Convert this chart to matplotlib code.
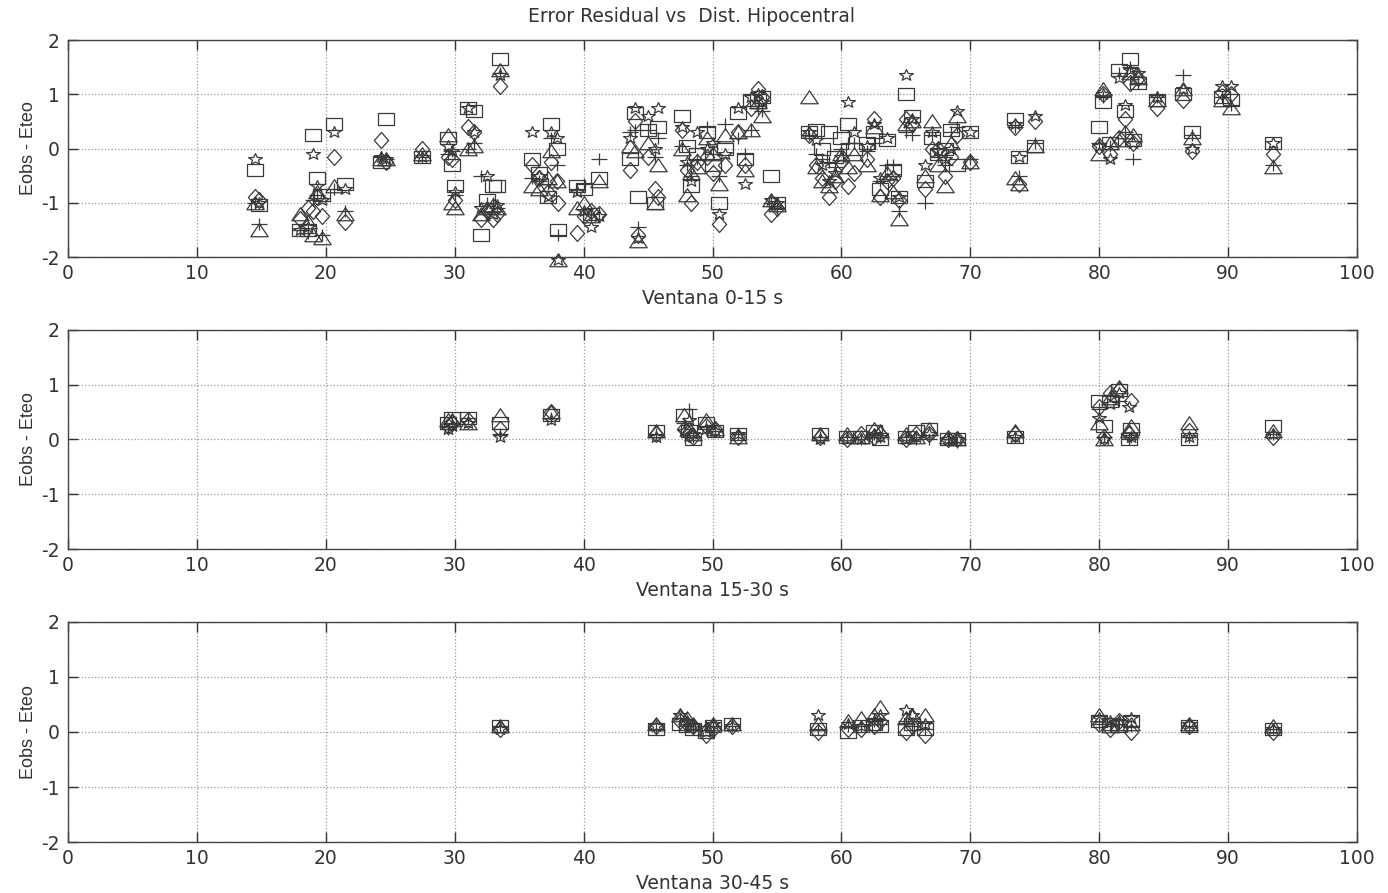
import numpy as np
import matplotlib.pyplot as plt
from matplotlib.path import Path

# ---------------------------------------------------------------#
# Residuals (Eobs - Eteo) vs hypocentral distance, three windows  #
# columns per station: square, diamond, triangle, plus, star      #
# ---------------------------------------------------------------#
dist1 = [14.5, 14.8, 18.0, 18.6, 19.0, 19.3, 19.7, 20.6, 21.5, 24.3, 24.7, 27.5,
         29.5, 29.8, 30.0, 31.0, 31.5, 32.0, 32.5, 33.0, 33.3, 33.5, 36.0, 36.5,
         37.2, 37.5, 37.9, 38.0, 39.5, 40.0, 40.6, 41.2, 43.6, 44.0, 44.2, 45.0,
         45.5, 45.8, 47.6, 48.0, 48.3, 48.8, 49.6, 50.0, 50.5, 51.0, 52.0, 52.5,
         53.0, 53.5, 53.8, 54.5, 55.0, 57.5, 58.0, 58.5, 59.0, 59.5, 60.0, 60.5,
         61.0, 62.0, 62.5, 63.0, 63.5, 64.0, 64.5, 65.0, 65.5, 66.5, 67.0, 67.5,
         68.0, 68.5, 69.0, 70.0, 73.5, 73.8, 75.0, 80.0, 80.3, 80.8, 81.5, 82.0,
         82.4, 82.6, 83.0, 84.5, 86.5, 87.2, 89.5, 90.2, 93.5]
sq1 = [-0.4, -1.05, -1.5, -1.5, 0.25, -0.55, -0.85, 0.45, -0.65, -0.25, 0.55, -0.15,
       0.2, -0.3, -0.7, 0.75, 0.7, -1.6, -0.95, -0.7, -0.7, 1.65, -0.2, -0.45,
       -0.9, 0.45, 0.0, -1.5, -0.7, -0.75, -1.2, -0.55, -0.2, 0.65, -0.9, 0.35,
       -1.0, 0.4, 0.6, 0.05, -0.7, -0.1, 0.3, -0.3, -1.0, 0.0, 0.65, -0.2,
       0.9, 0.9, 0.95, -0.5, -1.0, 0.3, 0.35, 0.0, 0.3, -0.15, 0.2, 0.45,
       0.0, 0.1, 0.3, -0.75, 0.15, -0.4, -0.9, 1.0, 0.6, -0.6, 0.2, -0.1,
       0.0, 0.35, -0.3, 0.3, 0.55, -0.15, 0.05, 0.4, 0.85, 0.1, 1.45, 0.7,
       1.65, 0.15, 1.2, 0.9, 1.0, 0.3, 0.95, 0.9, 0.1]
dm1 = [-0.9, -0.95, -1.3, -1.1, -1.15, -0.9, -1.25, -0.15, -1.35, 0.15, -0.25, 0.0,
       -0.15, -0.2, -0.95, 0.4, 0.3, -1.3, -1.15, -1.3, -1.2, 1.15, -0.3, -0.55,
       -0.8, -0.25, -0.6, -1.0, -1.55, -1.25, -1.15, -1.2, -0.4, 0.5, -1.6, -0.15,
       -0.75, -0.9, 0.35, -0.4, -1.0, -0.25, -0.15, -0.45, -1.4, -0.3, 0.3, -0.3,
       0.75, 1.1, 0.95, -1.2, -1.1, 0.25, -0.3, -0.55, -0.9, -0.6, -0.25, -0.7,
       -0.45, -0.2, 0.55, -0.9, -0.6, -0.55, -0.95, 0.55, 0.45, -0.75, 0.0, 0.0,
       -0.5, -0.15, 0.25, -0.25, 0.4, -0.65, 0.5, 0.05, 1.0, -0.1, 0.2, 0.55,
       1.2, 0.1, 1.3, 0.75, 0.9, -0.05, 1.05, 1.0, -0.1]
tr1 = [-1.0, -1.5, -1.2, -1.35, -1.6, -0.8, -1.65, -0.7, -1.2, -0.2, -0.2, -0.1,
       0.25, -1.0, -1.1, 0.0, 0.05, -1.2, -1.1, -1.05, -1.1, 1.45, -0.7, -0.75,
       -0.55, -0.05, -0.6, -2.05, -1.1, -1.0, -1.25, -0.6, 0.05, -0.05, -1.7, 0.1,
       -1.0, -0.3, 0.0, -0.85, -0.45, -0.35, 0.2, -0.1, -0.65, 0.25, 0.3, -0.4,
       0.35, 0.85, 0.6, -0.95, -1.05, 0.95, -0.35, -0.6, -0.7, -0.5, -0.1, -0.35,
       -0.1, -0.3, 0.4, -0.85, -0.45, -0.8, -1.3, 0.45, 0.5, -0.5, 0.5, -0.3,
       -0.7, 0.1, 0.6, -0.25, -0.55, -0.65, 0.05, -0.1, 1.1, 0.1, 0.15, 0.3,
       1.4, 0.25, 1.3, 0.9, 1.1, 0.2, 0.9, 0.75, -0.35]
pl1 = [-1.0, -1.4, -1.5, -1.55, -0.95, -0.85, -1.6, -0.75, -1.15, -0.15, -0.2, -0.15,
       -0.1, -0.05, -0.85, 0.0, 0.1, -0.5, -1.0, -1.0, -1.1, 1.4, -0.55, -0.6,
       -0.65, 0.2, -0.3, -1.6, -0.75, -0.65, -1.2, -0.2, 0.3, 0.35, -1.45, 0.35,
       -0.15, 0.2, 0.05, -0.3, -0.5, -0.2, 0.4, -0.1, -0.5, 0.45, 0.2, -0.1,
       0.35, 0.75, 0.7, -1.0, -1.1, 0.25, -0.1, -0.2, -0.25, -0.35, 0.0, 0.1,
       0.1, -0.05, 0.1, -0.6, -0.3, -0.3, -1.15, 0.3, 0.25, -1.0, 0.25, -0.15,
       -0.3, 0.3, 0.4, -0.2, 0.4, -0.5, 0.1, 0.1, 0.95, 0.05, 1.4, 0.3,
       1.5, -0.2, 1.2, 0.95, 1.35, 0.25, 0.95, 0.8, -0.3]
st1 = [-0.2, -1.0, -1.5, -1.45, -0.1, -0.7, -0.95, 0.3, -0.75, -0.15, -0.2, -0.15,
       0.05, -0.05, -0.8, 0.75, 0.3, -1.1, -0.5, -1.2, -1.05, 1.35, 0.3, -0.5,
       -0.9, 0.3, 0.2, -2.05, -0.8, -1.15, -1.45, -1.25, 0.2, 0.75, -1.65, 0.6,
       0.0, 0.75, 0.4, -0.25, -0.6, 0.3, 0.0, 0.1, -1.2, -0.1, 0.75, -0.65,
       0.95, 1.0, 0.85, -0.95, -1.0, 0.3, 0.15, -0.3, -0.6, -0.45, -0.15, 0.85,
       0.3, 0.05, 0.45, -0.55, 0.2, -0.5, -0.9, 1.35, 0.55, -0.3, 0.3, -0.05,
       -0.2, 0.0, 0.7, 0.3, 0.45, -0.15, 0.6, 0.05, 1.0, -0.2, 1.3, 0.8,
       1.45, 0.1, 1.4, 0.95, 1.1, 0.0, 1.15, 1.15, 0.1]

dist2 = [29.5, 29.8, 31.0, 33.5, 37.5, 45.6, 47.8, 48.2, 48.5, 49.5, 50.2, 52.0,
         58.3, 60.4, 61.5, 62.5, 63.0, 65.0, 65.8, 66.8, 68.3, 69.0, 73.5, 80.0,
         80.4, 80.8, 81.5, 82.3, 82.5, 87.0, 93.5]
sq2 = [0.3, 0.4, 0.4, 0.3, 0.45, 0.15, 0.45, 0.15, 0.0, 0.3, 0.15, 0.1,
       0.1, 0.05, 0.05, 0.15, 0.0, 0.05, 0.15, 0.2, 0.0, 0.0, 0.05, 0.7,
       0.25, 0.7, 0.9, 0.0, 0.2, 0.0, 0.25]
dm2 = [0.25, 0.3, 0.35, 0.2, 0.5, 0.1, 0.2, 0.1, 0.05, 0.25, 0.2, 0.05,
       0.05, 0.0, 0.1, 0.05, 0.1, 0.0, 0.1, 0.1, 0.0, 0.0, 0.1, 0.6,
       0.05, 0.85, 0.9, 0.1, 0.7, 0.15, 0.05]
tr2 = [0.35, 0.35, 0.3, 0.45, 0.5, 0.15, 0.45, 0.2, 0.1, 0.35, 0.2, 0.05,
       0.1, 0.1, 0.05, 0.2, 0.15, 0.1, 0.05, 0.2, 0.05, 0.0, 0.15, 0.3,
       0.0, 0.75, 0.95, 0.15, 0.25, 0.3, 0.15]
pl2 = [0.2, 0.3, 0.4, 0.1, 0.4, 0.1, 0.3, 0.55, 0.05, 0.25, 0.15, 0.1,
       0.05, 0.05, 0.0, 0.1, 0.05, 0.05, 0.0, 0.0, 0.0, -0.05, 0.05, 0.55,
       0.05, 0.8, 0.7, 0.0, 0.05, 0.05, 0.1]
st2 = [0.2, 0.25, 0.3, 0.05, 0.35, 0.05, 0.15, 0.35, 0.1, 0.2, 0.15, 0.1,
       0.0, 0.0, 0.0, 0.1, 0.05, 0.0, 0.05, 0.1, 0.0, 0.0, 0.05, 0.4,
       0.0, 0.65, 0.85, 0.6, 0.05, 0.05, 0.1]

dist3 = [33.5, 45.6, 47.5, 48.0, 48.5, 49.5, 50.0, 51.5, 58.2, 60.5, 61.5, 62.5,
         63.0, 65.0, 65.5, 66.5, 80.0, 80.8, 81.5, 82.5, 87.0, 93.5]
sq3 = [0.1, 0.05, 0.15, 0.1, 0.05, 0.0, 0.1, 0.15, 0.05, 0.0, 0.1, 0.15,
       0.1, 0.05, 0.15, 0.05, 0.2, 0.15, 0.1, 0.2, 0.1, 0.05]
dm3 = [0.05, 0.1, 0.2, 0.15, 0.1, -0.05, 0.05, 0.1, 0.0, 0.05, 0.05, 0.1,
       0.2, 0.0, 0.1, -0.05, 0.15, 0.05, 0.2, 0.0, 0.1, 0.0]
tr3 = [0.1, 0.15, 0.3, 0.25, 0.15, 0.05, 0.15, 0.15, 0.15, 0.2, 0.25, 0.3,
       0.45, 0.25, 0.3, 0.3, 0.3, 0.1, 0.15, 0.15, 0.15, 0.1]
pl3 = [0.1, 0.05, 0.25, 0.1, 0.05, 0.1, 0.1, 0.1, 0.05, 0.1, 0.1, 0.2,
       0.15, 0.2, 0.1, 0.05, 0.15, 0.1, 0.15, 0.1, 0.1, 0.05]
st3 = [0.05, 0.1, 0.3, 0.2, 0.1, 0.0, 0.15, 0.1, 0.3, 0.15, 0.1, 0.2,
       0.3, 0.4, 0.3, 0.15, 0.25, 0.2, 0.2, 0.25, 0.15, 0.05]

xlabels = ['Ventana 0-15 s', 'Ventana 15-30 s', 'Ventana 30-45 s']

#---------------------------------------------------------#
# the scanned original is stretched sideways, so the     #
# marker shapes are built a bit wider than tall          #
#---------------------------------------------------------#
sx, sy = 1.0, 0.75
mSquare = Path([(-sx, -sy), (sx, -sy), (sx, sy), (-sx, sy), (-sx, -sy)], closed=True)
mDiamond = Path([(0, -0.95), (0.85, 0), (0, 0.95), (-0.85, 0), (0, -0.95)], closed=True)
mTriangle = Path([(-sx, -0.72), (sx, -0.72), (0, 0.78), (-sx, -0.72)], closed=True)
mPlus = Path([(-sx, 0), (sx, 0), (0, -0.8), (0, 0.8)],
             [Path.MOVETO, Path.LINETO, Path.MOVETO, Path.LINETO])
ang = np.pi / 2 + np.arange(10) * np.pi / 5
rad = np.where(np.arange(10) % 2 == 0, 1.0, 0.42)
starPts = list(zip(rad * np.cos(ang) * 1.05, rad * np.sin(ang) * 0.85))
mStar = Path(starPts + [starPts[0]], closed=True)

styles = [(mSquare, 11.5), (mDiamond, 11.5), (mTriangle, 12.5), (mPlus, 11.5), (mStar, 10.0)]
ink = '#3a3a3a'

plt.rcParams['font.family'] = ['DejaVu Sans']
plt.rcParams['axes.unicode_minus'] = False
fig = plt.figure(figsize=(13.88, 8.93), dpi=100)
positions = [[0.0490, 0.7122, 0.9287, 0.2430],
             [0.0490, 0.3852, 0.9287, 0.2453],
             [0.0490, 0.0571, 0.9287, 0.2464]]

panels = [(dist1, sq1, dm1, tr1, pl1, st1),
          (dist2, sq2, dm2, tr2, pl2, st2),
          (dist3, sq3, dm3, tr3, pl3, st3)]

for k in range(3):
  ax = fig.add_axes(positions[k])
  d = panels[k][0]
  for j in range(5):
    mk, ms = styles[j]
    ax.plot(d, panels[k][j + 1], linestyle='none', marker=mk, markersize=ms,
            markerfacecolor='none', markeredgecolor=ink, markeredgewidth=0.9,
            clip_on=False)
  ax.set_xlim(0, 100)
  ax.set_ylim(-2, 2)
  ax.set_xticks(np.arange(0, 101, 10))
  ax.set_yticks([-2, -1, 0, 1, 2])
  ax.grid(True, color='#9a9a9a', linestyle=':', linewidth=0.9)
  ax.tick_params(direction='in', top=True, right=True, length=7, width=1.0,
                 labelsize=13.5, colors='#333333')
  ax.tick_params(axis='x', pad=5)
  ax.tick_params(axis='y', pad=6)
  for sp in ax.spines.values():
    sp.set_color('#444444')
    sp.set_linewidth(1.0)
  ax.set_xlabel(xlabels[k], fontsize=13.5, color='#333333', labelpad=4)
  ax.set_ylabel('Eobs - Eteo', fontsize=13, color='#333333', labelpad=3,
                family=['Liberation Sans', 'DejaVu Sans'])

fig.text(691 / 1388, 1 - 16 / 893, 'Error Residual vs  Dist. Hipocentral',
         fontsize=13.5, color='#333333', ha='center', va='center')

plt.savefig('out.png', dpi=100)
